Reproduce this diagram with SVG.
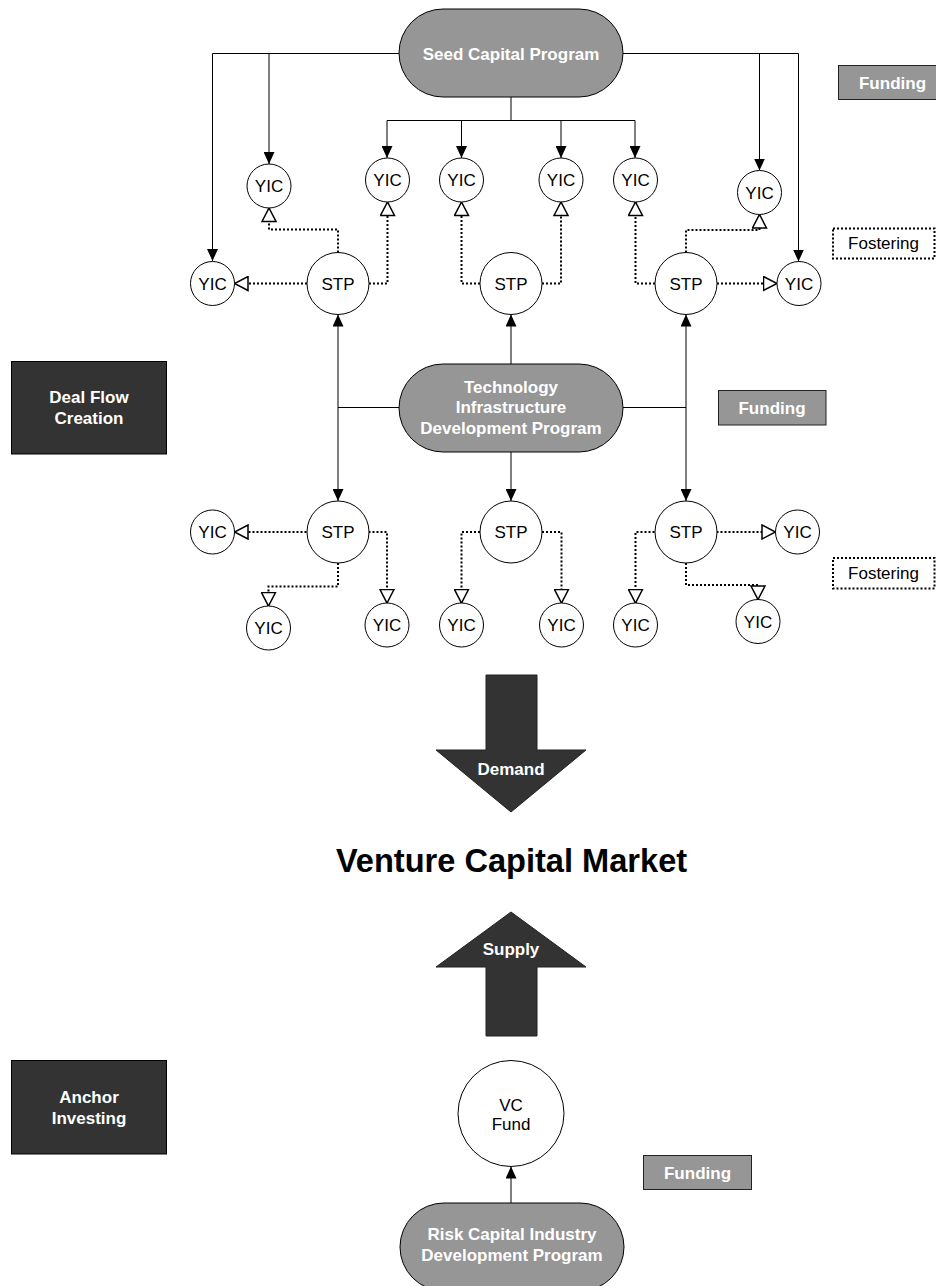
<svg xmlns="http://www.w3.org/2000/svg" width="936" height="1286" viewBox="0 0 936 1286">
<style>
text{font-family:"Liberation Sans",Arial,sans-serif;font-size:17px;text-anchor:middle}
.b{font-weight:bold;fill:#fff}
.n{fill:#000}
.pill{fill:#969696;stroke:#000;stroke-width:1}
.dark{fill:#333;stroke:#000;stroke-width:1}
.fund{fill:#969696;stroke:#222;stroke-width:1}
.fost{fill:#fff;stroke:#000;stroke-width:2;stroke-dasharray:2 2}
.c{fill:#fff;stroke:#000;stroke-width:1}
.ln{fill:none;stroke:#000;stroke-width:1}
.dot{fill:none;stroke:#000;stroke-width:2;stroke-dasharray:2 2}
.big{fill:#333;stroke:#222;stroke-width:1}
</style>
<defs>
<marker id="fa" viewBox="0 0 12 11" refX="12" refY="5.5" markerWidth="12" markerHeight="11" markerUnits="userSpaceOnUse" orient="auto-start-reverse">
<path d="M0,0 L12,5.5 L0,11 Z" fill="#000" stroke="none"/>
</marker>
<marker id="ha" viewBox="-1 -1 16 16" refX="13.5" refY="7" markerWidth="16" markerHeight="16" markerUnits="userSpaceOnUse" orient="auto">
<path d="M0,0 L13.5,7 L0,14 Z" fill="#fff" stroke="#000" stroke-width="1.5" stroke-dasharray="none"/>
</marker>
</defs>

<g id="connectors">
<!-- Seed Capital Program funding lines -->
<path class="ln" d="M399,53.5 H212.5 V261" marker-end="url(#fa)"/>
<path class="ln" d="M269,53.5 V164" marker-end="url(#fa)"/>
<path class="ln" d="M623,53.5 H798.5 V261.5" marker-end="url(#fa)"/>
<path class="ln" d="M759.5,53.5 V170.5" marker-end="url(#fa)"/>
<path class="ln" d="M511,97 V120.5 M387,120.5 H635"/>
<path class="ln" d="M387,120.5 V158" marker-end="url(#fa)"/>
<path class="ln" d="M461.5,120.5 V158" marker-end="url(#fa)"/>
<path class="ln" d="M561,120.5 V158" marker-end="url(#fa)"/>
<path class="ln" d="M635,120.5 V158" marker-end="url(#fa)"/>
<!-- TIDP funding lines -->
<path class="ln" d="M399,407.5 H338"/>
<path class="ln" d="M338,314.5 V501" marker-start="url(#fa)" marker-end="url(#fa)"/>
<path class="ln" d="M511,364 V314.5" marker-end="url(#fa)"/>
<path class="ln" d="M511,452 V501" marker-end="url(#fa)"/>
<path class="ln" d="M623,407.5 H686"/>
<path class="ln" d="M686,314.5 V501" marker-start="url(#fa)" marker-end="url(#fa)"/>
<!-- RCIDP to VC Fund -->
<path class="ln" d="M511,1203 V1166.5" marker-end="url(#fa)"/>
<!-- Fostering top -->
<path class="dot" d="M307,283.5 H234.5" marker-end="url(#ha)"/>
<path class="dot" d="M338,252.5 V229.5 H269 V208" marker-end="url(#ha)"/>
<path class="dot" d="M369,283.5 H387.5 V202" marker-end="url(#ha)"/>
<path class="dot" d="M480,283.5 H461.5 V202" marker-end="url(#ha)"/>
<path class="dot" d="M542,283.5 H561 V202" marker-end="url(#ha)"/>
<path class="dot" d="M655,283.5 H635.5 V202" marker-end="url(#ha)"/>
<path class="dot" d="M686,252.5 V230 H759.5 V214.5" marker-end="url(#ha)"/>
<path class="dot" d="M717,283.5 H777" marker-end="url(#ha)"/>
<!-- Fostering bottom -->
<path class="dot" d="M306.5,532 H234.5" marker-end="url(#ha)"/>
<path class="dot" d="M338,563 V586.5 H268.5 V606" marker-end="url(#ha)"/>
<path class="dot" d="M368.5,532 H387 V603" marker-end="url(#ha)"/>
<path class="dot" d="M480,532 H461.5 V603" marker-end="url(#ha)"/>
<path class="dot" d="M542,532 H561.5 V603" marker-end="url(#ha)"/>
<path class="dot" d="M654.5,532 H635.5 V603" marker-end="url(#ha)"/>
<path class="dot" d="M686,563 V585 H758 V599.5" marker-end="url(#ha)"/>
<path class="dot" d="M716.5,532 H775.5" marker-end="url(#ha)"/>
</g>

<g id="seed-capital-program">
<rect class="pill" x="399" y="9" width="224" height="88" rx="44" ry="44"/>
<text class="b" x="511" y="59.5">Seed Capital Program</text>
</g>
<g id="tidp">
<rect class="pill" x="399" y="364" width="224" height="88" rx="44" ry="44"/>
<text class="b" x="511" y="392.5">Technology</text>
<text class="b" x="511" y="413">Infrastructure</text>
<text class="b" x="511" y="433.5">Development Program</text>
</g>
<g id="rcidp">
<rect class="pill" x="400" y="1203" width="224" height="88" rx="44" ry="44"/>
<text class="b" x="512" y="1240">Risk Capital Industry</text>
<text class="b" x="512" y="1261">Development Program</text>
</g>

<g id="yic-a"><circle class="c" cx="269" cy="186" r="22"/><text class="n" x="269" y="192">YIC</text></g>
<g id="yic-b"><circle class="c" cx="387.5" cy="180" r="22"/><text class="n" x="387.5" y="186">YIC</text></g>
<g id="yic-c"><circle class="c" cx="461.5" cy="180" r="22"/><text class="n" x="461.5" y="186">YIC</text></g>
<g id="yic-d"><circle class="c" cx="561" cy="180" r="22"/><text class="n" x="561" y="186">YIC</text></g>
<g id="yic-e"><circle class="c" cx="635.5" cy="180" r="22"/><text class="n" x="635.5" y="186">YIC</text></g>
<g id="yic-f"><circle class="c" cx="759.5" cy="192.5" r="22"/><text class="n" x="759.5" y="198.5">YIC</text></g>
<g id="yic-l"><circle class="c" cx="212.5" cy="283.5" r="22"/><text class="n" x="212.5" y="289.5">YIC</text></g>
<g id="yic-r"><circle class="c" cx="799" cy="283.5" r="22"/><text class="n" x="799" y="289.5">YIC</text></g>
<g id="stp-1"><circle class="c" cx="338" cy="283.5" r="31"/><text class="n" x="338" y="289.5">STP</text></g>
<g id="stp-2"><circle class="c" cx="511" cy="283.5" r="31"/><text class="n" x="511" y="289.5">STP</text></g>
<g id="stp-3"><circle class="c" cx="686" cy="283.5" r="31"/><text class="n" x="686" y="289.5">STP</text></g>

<g id="stp-4"><circle class="c" cx="338" cy="532" r="31"/><text class="n" x="338" y="538">STP</text></g>
<g id="stp-5"><circle class="c" cx="511" cy="532" r="31"/><text class="n" x="511" y="538">STP</text></g>
<g id="stp-6"><circle class="c" cx="686" cy="532" r="31"/><text class="n" x="686" y="538">STP</text></g>
<g id="yic-ll"><circle class="c" cx="212.5" cy="532" r="22"/><text class="n" x="212.5" y="538">YIC</text></g>
<g id="yic-4a"><circle class="c" cx="268.5" cy="628" r="22"/><text class="n" x="268.5" y="634">YIC</text></g>
<g id="yic-4b"><circle class="c" cx="387" cy="625" r="22"/><text class="n" x="387" y="631">YIC</text></g>
<g id="yic-5a"><circle class="c" cx="461.5" cy="625" r="22"/><text class="n" x="461.5" y="631">YIC</text></g>
<g id="yic-5b"><circle class="c" cx="561.5" cy="625" r="22"/><text class="n" x="561.5" y="631">YIC</text></g>
<g id="yic-6a"><circle class="c" cx="635.5" cy="625" r="22"/><text class="n" x="635.5" y="631">YIC</text></g>
<g id="yic-6b"><circle class="c" cx="758" cy="621.5" r="22"/><text class="n" x="758" y="627.5">YIC</text></g>
<g id="yic-rr"><circle class="c" cx="797.5" cy="532" r="22"/><text class="n" x="797.5" y="538">YIC</text></g>

<g id="vc-fund">
<circle class="c" cx="511" cy="1113.5" r="53"/>
<text class="n" x="511" y="1110.5">VC</text>
<text class="n" x="511" y="1130">Fund</text>
</g>

<g id="funding-1"><rect class="fund" x="838.5" y="65.5" width="108" height="34"/><text class="b" x="892.5" y="88.5">Funding</text></g>
<g id="funding-2"><rect class="fund" x="718.5" y="390.5" width="107.5" height="34.5"/><text class="b" x="772" y="413.5">Funding</text></g>
<g id="funding-3"><rect class="fund" x="643.5" y="1155.5" width="108" height="34"/><text class="b" x="697.5" y="1179">Funding</text></g>
<g id="fostering-1"><rect class="fost" x="833" y="228.5" width="101.5" height="30"/><text class="n" x="883.5" y="248.5">Fostering</text></g>
<g id="fostering-2"><rect class="fost" x="833" y="558" width="101.5" height="30.5"/><text class="n" x="883.5" y="578.5">Fostering</text></g>

<g id="deal-flow-creation">
<rect class="dark" x="11.5" y="361.5" width="155" height="92.5"/>
<text class="b" x="89" y="402.5">Deal Flow</text>
<text class="b" x="89" y="423.5">Creation</text>
</g>
<g id="anchor-investing">
<rect class="dark" x="11.5" y="1060.5" width="155" height="93.5"/>
<text class="b" x="89" y="1102.5">Anchor</text>
<text class="b" x="89" y="1123.5">Investing</text>
</g>

<g id="demand">
<polygon class="big" points="486,675 537,675 537,750 586,750 511,812 436,750 486,750"/>
<text class="b" x="511" y="774.5">Demand</text>
</g>
<g id="venture-capital-market">
<text x="511.5" y="871.5" style="font-size:32.6px;font-weight:bold;fill:#000">Venture Capital Market</text>
</g>
<g id="supply">
<polygon class="big" points="511,912 586,967 537,967 537,1036 486,1036 486,967 436,967"/>
<text class="b" x="511" y="955">Supply</text>
</g>
</svg>
